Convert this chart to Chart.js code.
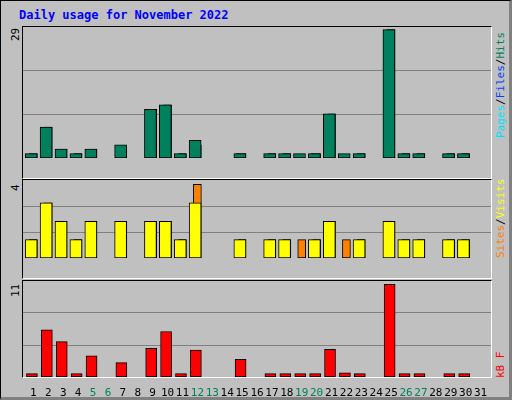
<!DOCTYPE html>
<html><head><meta charset="utf-8">
<script src="https://cdn.jsdelivr.net/npm/chart.js@4"></script>
<style>
body{margin:0;background:#fff;}
#wrap{position:absolute;left:0;top:0;width:508px;height:396px;background:#c0c0c0;border:1px solid #000;border-right:3px solid #808080;border-bottom:3px solid #808080;font-family:"DejaVu Sans Mono",monospace;}
.frame{position:absolute;border-top:1px solid #000;border-left:1px solid #000;border-right:1px solid #fff;border-bottom:1px solid #fff;}
canvas{position:absolute;}
.lbl{position:absolute;font-size:11px;transform-origin:0 0;transform:rotate(-90deg);white-space:nowrap;}
</style></head><body>
<div id="wrap">
<div style="position:absolute;left:18px;top:7px;color:#0000ff;font-weight:bold;font-size:12px;">Daily usage for November 2022</div>
<div class="frame" style="left:21px;top:25px;width:468px;height:151px"></div>
<div class="frame" style="left:21px;top:178px;width:468px;height:98px"></div>
<div class="frame" style="left:21px;top:279px;width:468px;height:96px"></div>
<canvas id="c1" style="left:22px;top:26px;width:468px;height:151px" width="468" height="151"></canvas>
<canvas id="c2" style="left:22px;top:179px;width:468px;height:98px" width="468" height="98"></canvas>
<canvas id="c3" style="left:22px;top:280px;width:468px;height:116px" width="468" height="116"></canvas>
<div class="lbl" style="left:8px;top:40px">29</div>
<div class="lbl" style="left:8px;top:190px">4</div>
<div class="lbl" style="left:8px;top:296px">11</div>
<div class="lbl" style="left:493px;top:137px"><span style="color:#00e0ff">Pages</span><span style="color:#000">/</span><span style="color:#0040ff">Files</span><span style="color:#000">/</span><span style="color:#00805c">Hits</span></div>
<div class="lbl" style="left:493px;top:257px"><span style="color:#ff8000">Sites</span><span style="color:#000">/</span><span style="color:#ffff00">Visits</span></div>
<div class="lbl" style="left:493px;top:377px"><span style="color:#ff0000">kB F</span></div>
</div>
<script>
const days=[1,2,3,4,5,6,7,8,9,10,11,12,13,14,15,16,17,18,19,20,21,22,23,24,25,26,27,28,29,30,31];
const hits=[1,7,2,1,2,0,3,0,11,12,1,4,0,0,1,0,1,1,1,1,10,1,1,0,29,1,1,0,1,1,0];
const pages=[1,7,2,1,2,0,2,0,11,12,1,3,0,0,1,0,1,1,0,1,10,0,1,0,29,1,1,0,1,1,0];
const files=[0,3,2,0,1,0,1,0,2,3,0,1,0,0,1,0,0,0,0,1,1,0,0,0,0,0,0,0,0,0,0];
const visits=[1,3,2,1,2,0,2,0,2,2,1,3,0,0,1,0,1,1,0,1,2,0,1,0,2,1,1,0,1,1,0];
const sites=[1,3,2,1,2,0,2,0,2,2,1,4,0,0,1,0,1,1,1,1,2,1,1,0,2,1,1,0,1,1,0];
const kbytes=[0.4,5.6,4.2,0.4,2.5,0,1.7,0,3.4,5.4,0.4,3.2,0,0,2.1,0,0.4,0.4,0.4,0.4,3.3,0.5,0.4,0,11,0.4,0.4,0,0.4,0.4,0];
const weekend=[5,6,12,13,19,20,26,27];
function ds(vals,off,w,col){return{grouped:false,data:days.map((d,i)=>({x:d+off,y:vals[i]})).filter(p=>p.y>0),backgroundColor:col,borderColor:'#000',borderWidth:1,barThickness:w,borderSkipped:false};}
function opts(M,showX){return{responsive:false,animation:false,events:[],layout:{padding:0},
 plugins:{legend:{display:false},tooltip:{enabled:false}},
 scales:{x:{type:'linear',offset:false,min:0.3,max:31.7,display:showX,grid:{display:false},border:{display:false},
   afterBuildTicks:s=>{s.ticks=days.map(v=>({value:v}));},afterFit:s=>{s.height=20;},
   ticks:{autoSkip:false,maxRotation:0,padding:2,color:c=>weekend.includes(c.tick.value)?'#00805c':'#000',font:{family:'DejaVu Sans Mono',size:11},callback:v=>String(v)}},
  y:{min:0,max:M,display:true,border:{display:false},ticks:{display:false},afterFit:s=>{s.width=0;},
   afterBuildTicks:s=>{s.ticks=[{value:M/3},{value:2*M/3}];},grid:{color:'#808080',drawTicks:false,lineWidth:1}}}};}
new Chart(document.getElementById('c1'),{type:'bar',data:{datasets:[ds(hits,-0.15,12,'#00805c'),ds(pages,0,8,'#00e0ff'),ds(files,-0.33,2,'#0040ff')]},options:opts(29.6,false)});
new Chart(document.getElementById('c2'),{type:'bar',data:{datasets:[ds(visits,-0.15,12,'#ffff00'),ds(sites,0,8,'#ff8000')]},options:opts(4.24,false)});
new Chart(document.getElementById('c3'),{type:'bar',data:{datasets:[ds(kbytes,-0.1,11,'#ff0000')]},options:opts(11.4,true)});
</script></body></html>
